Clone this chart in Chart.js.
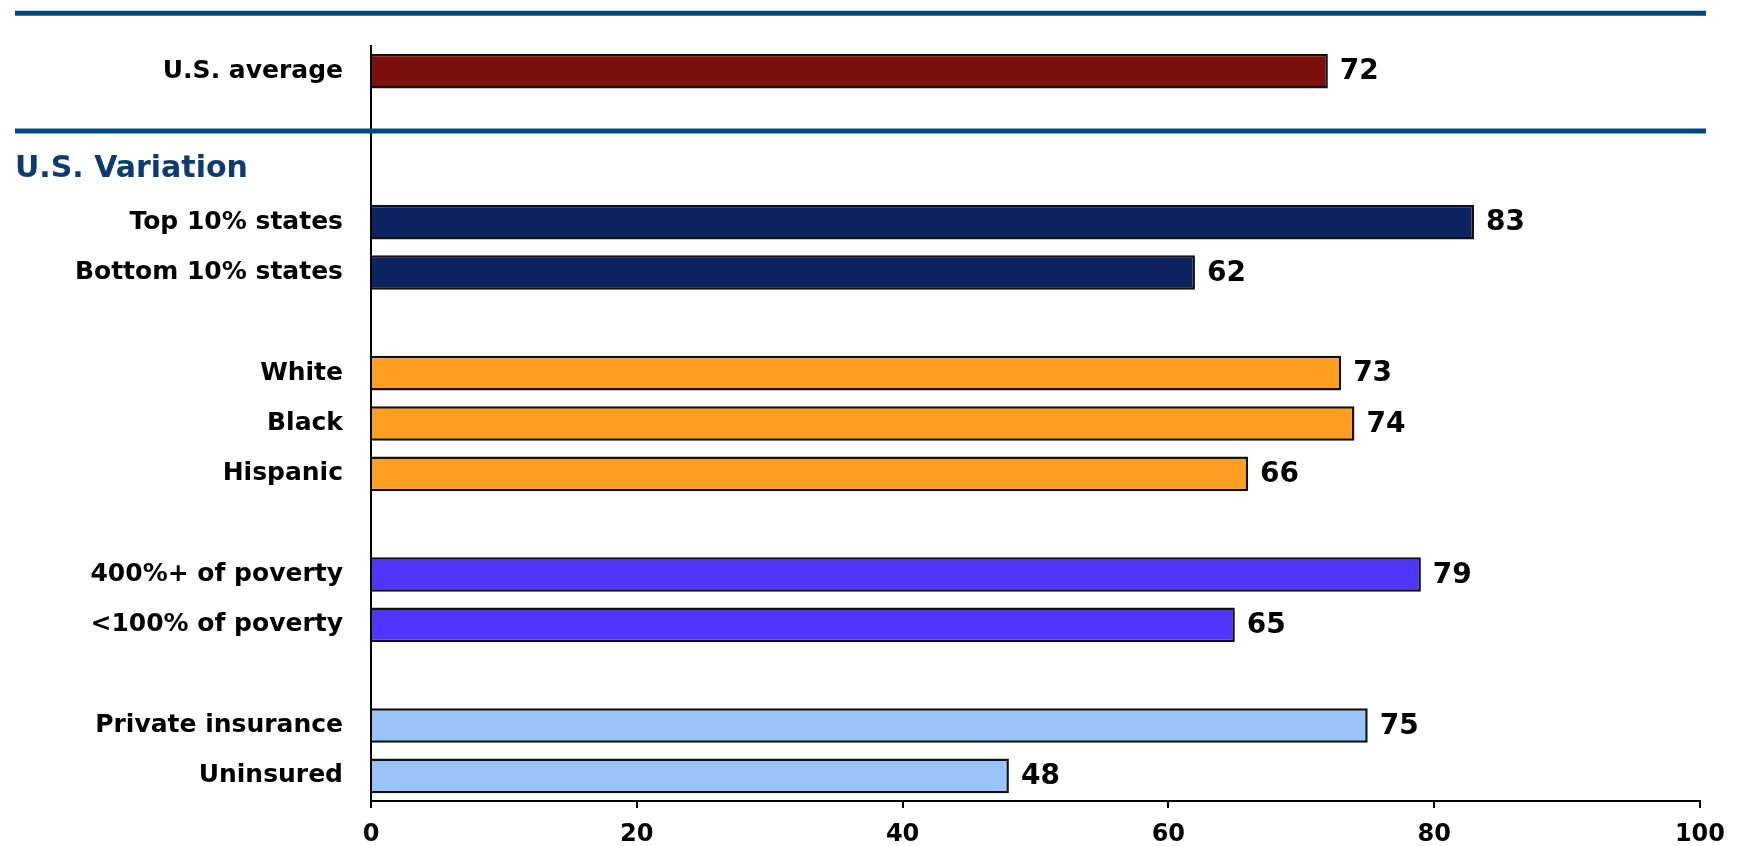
<!DOCTYPE html>
<html>
<head>
<meta charset="utf-8">
<script src="https://cdn.jsdelivr.net/npm/chart.js@4.4.0/dist/chart.umd.min.js"></script>
<style>
  html, body { margin: 0; padding: 0; background: #fff; }
  #wrap { width: 1737px; height: 846px; }
</style>
</head>
<body>
<div id="wrap"><canvas id="grafico" width="1737" height="846"></canvas></div>
<script>
// categorias (las vacias son huecos entre grupos)
const categorias = [
  'U.S. average', '', '',
  'Top 10% states', 'Bottom 10% states', '',
  'White', 'Black', 'Hispanic', '',
  '400%+ of poverty', '<100% of poverty', '',
  'Private insurance', 'Uninsured'
];
const valores = [72, null, null, 83, 62, null, 73, 74, 66, null, 79, 65, null, 75, 48];
const colores = [
  '#7b0f0b', null, null,
  '#0b2461', '#0b2461', null,
  '#ff9e20', '#ff9e20', '#ff9e20', null,
  '#5034ff', '#5034ff', null,
  '#9ac3f9', '#9ac3f9'
];
const ticksX = [0, 20, 40, 60, 80, 100];
const tituloGrupo = 'U.S. Variation';

const fuente = '"DejaVu Sans", sans-serif';
const azulLinea = '#04467e';

// lineas separadoras, titulo y valores al final de cada barra
const decoracion = {
  id: 'decoracion',
  afterDraw(chart) {
    const ctx = chart.ctx;
    const y = chart.scales.y;
    const x = chart.scales.x;
    const paso = y.getPixelForTick(1) - y.getPixelForTick(0);
    ctx.save();
    ctx.strokeStyle = azulLinea;
    ctx.lineWidth = 5;
    const yTop = y.top - 0.65 * paso;
    const yMed = y.getPixelForTick(1) + 0.19 * paso;
    [yTop, yMed].forEach(function (yy) {
      ctx.beginPath();
      ctx.moveTo(15, yy);
      ctx.lineTo(x.right + 6, yy);
      ctx.stroke();
    });
    ctx.fillStyle = '#0b3b70';
    ctx.font = 'bold 30px ' + fuente;
    ctx.textAlign = 'left';
    ctx.textBaseline = 'middle';
    ctx.fillText(tituloGrupo, 15, y.getPixelForTick(2) - 3);

    ctx.fillStyle = '#000';
    ctx.font = 'bold 28px ' + fuente;
    const meta = chart.getDatasetMeta(0);
    meta.data.forEach(function (barra, i) {
      if (valores[i] == null) return;
      ctx.fillText(String(valores[i]), barra.x + 12, barra.y + 1);
    });
    ctx.restore();
  }
};

const ctx = document.getElementById('grafico').getContext('2d');
new Chart(ctx, {
  type: 'bar',
  data: {
    labels: categorias,
    datasets: [{
      data: valores,
      backgroundColor: colores,
      borderColor: '#111',
      borderWidth: 2.5,
      borderSkipped: 'start',
      barPercentage: 0.69,
      categoryPercentage: 1
    }]
  },
  options: {
    indexAxis: 'y',
    responsive: false,
    animation: false,
    devicePixelRatio: 1,
    layout: { padding: { top: 46, right: 31, left: 0, bottom: 0 } },
    plugins: {
      legend: { display: false },
      tooltip: { enabled: false }
    },
    scales: {
      x: {
        min: 0,
        max: 100,
        afterBuildTicks(scale) {
          scale.ticks = ticksX.map(function (v) { return { value: v }; });
        },
        afterFit(scale) { scale.height = 45; },
        grid: {
          drawOnChartArea: false,
          drawTicks: true,
          tickLength: 7,
          color: '#000',
          lineWidth: 2
        },
        border: { display: true, color: '#000', width: 2 },
        ticks: {
          color: '#000',
          padding: 12,
          maxRotation: 0,
          font: { family: fuente, weight: 'bold', size: 24 }
        }
      },
      y: {
        afterFit(scale) { scale.width = 371; },
        grid: { display: false, drawTicks: false },
        border: { display: true, color: '#000', width: 2 },
        ticks: {
          color: '#000',
          padding: 28,
          autoSkip: false,
          font: { family: fuente, weight: 'bold', size: 25 }
        }
      }
    }
  },
  plugins: [decoracion]
});
</script>
</body>
</html>
